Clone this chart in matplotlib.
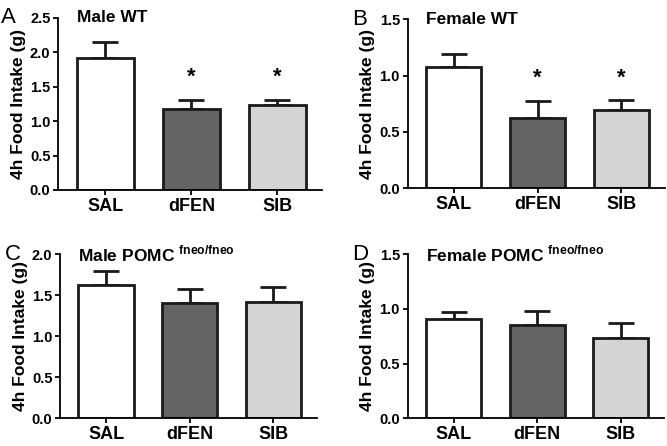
import matplotlib
matplotlib.use("Agg")
import matplotlib.pyplot as plt
import numpy as np

plt.rcParams['font.family'] = ['Liberation Sans', 'DejaVu Sans']
plt.rcParams['mathtext.fontset'] = 'custom'
plt.rcParams['mathtext.bf'] = 'Liberation Sans:bold'
plt.rcParams['mathtext.rm'] = 'Liberation Sans:bold'

groups = ['SAL', 'dFEN', 'SIB']
colors = ['#ffffff', '#646464', '#d4d4d4']

male_wt = [1.91, 1.17, 1.23]
male_wt_err = [0.24, 0.13, 0.08]
female_wt = [1.08, 0.62, 0.69]
female_wt_err = [0.115, 0.155, 0.09]
male_pomc = [1.62, 1.40, 1.42]
male_pomc_err = [0.17, 0.18, 0.18]
female_pomc = [0.905, 0.85, 0.73]
female_pomc_err = [0.07, 0.135, 0.14]

panels = [
    ('A', 'Male WT', male_wt, male_wt_err, 2.5, [0, 0.5, 1.0, 1.5, 2.0, 2.5], [1.64, 1.64]),
    ('B', 'Female WT', female_wt, female_wt_err, 1.5, [0, 0.5, 1.0, 1.5], [0.98, 0.98]),
    ('C', r'Male POMC $^{\mathbf{fneo/fneo}}$', male_pomc, male_pomc_err, 2.0, [0, 0.5, 1.0, 1.5, 2.0], None),
    ('D', r'Female POMC $^{\mathbf{fneo/fneo}}$', female_pomc, female_pomc_err, 1.5, [0, 0.5, 1.0, 1.5], None),
]

rects = [
    [0.087, 0.574, 0.396, 0.386],
    [0.611, 0.578, 0.386, 0.379],
    [0.090, 0.062, 0.385, 0.368],
    [0.611, 0.062, 0.385, 0.368],
]

fig = plt.figure(figsize=(6.67, 4.46), dpi=100)
x = np.arange(len(groups))

for rect, (letter, title, vals, errs, ymax, yticks, stars) in zip(rects, panels):
    ax = fig.add_axes(rect)
    ax.bar(x, vals, width=0.66, color=colors, edgecolor='#1a1a1a', linewidth=2, zorder=2)
    ax.errorbar(x, vals, yerr=[np.zeros(3), errs], fmt='none', ecolor='#1a1a1a',
                elinewidth=2, capsize=9.5, capthick=2, zorder=1)
    if stars:
        for xi, s in zip([1, 2], stars):
            ax.text(xi, s, '*', ha='center', va='center', fontsize=16, fontweight='bold')
    ax.set_xlim(-0.55, 2.52)
    ax.set_ylim(0, ymax)
    ax.set_yticks(yticks)
    ax.set_yticklabels(['%.1f' % t for t in yticks], fontsize=10.5, fontweight='bold')
    ax.set_xticks(x)
    ax.set_xticklabels(groups, fontsize=13, fontweight='bold')
    ax.spines['top'].set_visible(False)
    ax.spines['right'].set_visible(False)
    ax.spines['left'].set_linewidth(1.3)
    ax.spines['bottom'].set_linewidth(1.3)
    ax.tick_params(axis='both', width=1.3, length=3.5, pad=2)
    ax.set_ylabel('4h Food Intake (g)', fontsize=12.5, fontweight='bold', labelpad=3)
    ax.text(0.07, 1.0, title, transform=ax.transAxes, fontsize=12.5, fontweight='bold',
            va='center', ha='left')
    ax.text(-0.215, 1.0, letter, transform=ax.transAxes, fontsize=16, va='center', ha='left')

fig.savefig('out.png', dpi=100, facecolor='white')
